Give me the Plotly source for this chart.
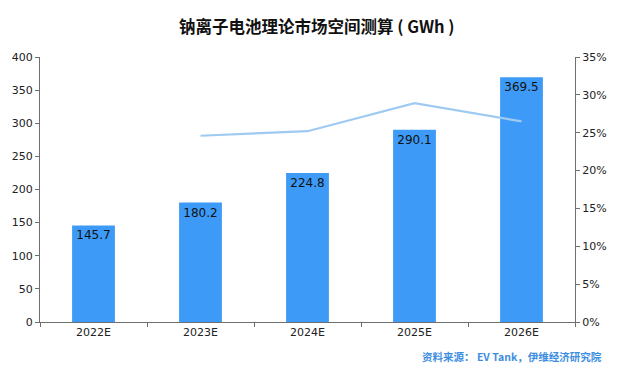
import plotly.graph_objects as go

categories = ["2022E", "2023E", "2024E", "2025E", "2026E"]
capacity = [145.7, 180.2, 224.8, 290.1, 369.5]
line_cats = ["2023E", "2024E", "2025E", "2026E"]
line_pct = [0.246, 0.252, 0.289, 0.265]
left_ticks = [0, 50, 100, 150, 200, 250, 300, 350, 400]
right_ticks = [0, 0.05, 0.10, 0.15, 0.20, 0.25, 0.30, 0.35]

font_fam = "DejaVu Sans, Verdana, sans-serif"

fig = go.Figure()
fig.add_trace(go.Bar(
    x=categories, y=capacity, width=0.4,
    marker=dict(color="#3d9bf7", line=dict(width=0)),
    text=[f"{v:.1f}" for v in capacity], textposition="inside",
    insidetextanchor="end", textangle=0,
    textfont=dict(color="#111111", size=12, family=font_fam),
    showlegend=False, cliponaxis=False,
))
fig.add_trace(go.Scatter(
    x=line_cats, y=line_pct, yaxis="y2", mode="lines",
    line=dict(color="#9fcaf2", width=2.2), showlegend=False,
))

fig.update_layout(
    width=640, height=376,
    margin=dict(l=38, r=65, t=57, b=54),
    paper_bgcolor="white", plot_bgcolor="white",
    title=dict(text="<b>钠离子电池理论市场空间测算 ( GWh )</b>", x=0.495, xanchor="center",
               y=0.928, yanchor="middle",
               font=dict(size=16.5, color="#111111", family="Noto Sans CJK SC")),
    xaxis=dict(showline=True, linecolor="#6f6f6f", linewidth=1, ticks="outside",
               tickson="boundaries", ticklen=4, tickcolor="#6f6f6f",
               tickfont=dict(size=11, color="#222222", family=font_fam),
               showgrid=False),
    yaxis=dict(range=[0, 400], tickvals=left_ticks, showline=True, linecolor="#6f6f6f",
               linewidth=1, ticks="outside", ticklen=4, tickcolor="#6f6f6f",
               tickfont=dict(size=11, color="#222222", family=font_fam),
               showgrid=False, zeroline=False),
    yaxis2=dict(range=[0, 0.35], tickvals=right_ticks, tickformat=".0%",
                overlaying="y", side="right", showline=True, linecolor="#6f6f6f",
                linewidth=1, ticks="outside", ticklen=4, tickcolor="#6f6f6f",
                tickfont=dict(size=11, color="#222222", family=font_fam),
                showgrid=False, zeroline=False),
    bargap=0.6,
)
fig.add_annotation(
    text="<b>资料来源： EV Tank，伊维经济研究院</b>", xref="paper", yref="paper",
    x=1.055, y=-0.13, xanchor="right", yanchor="middle", showarrow=False,
    font=dict(size=10.5, color="#3d8ee0", family="Noto Sans CJK SC"),
)
fig.write_html("out.html", config={"displayModeBar": False},
               post_script="document.body.style.margin='0';document.body.style.overflow='hidden';")
